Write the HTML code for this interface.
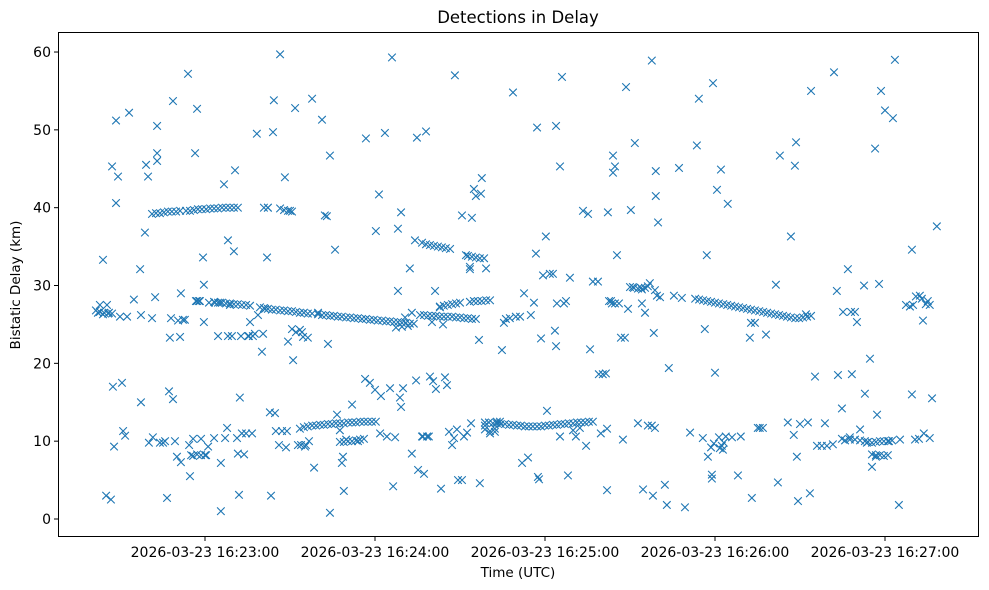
<!DOCTYPE html>
<html><head><meta charset="utf-8"><style>
html,body{margin:0;padding:0;background:#fff;}
svg{display:block;font-family:"DejaVu Sans","Liberation Sans",sans-serif;}
</style></head><body>
<svg id="chart" width="989" height="590" viewBox="0 0 989 590" xmlns="http://www.w3.org/2000/svg">
<rect x="0" y="0" width="989" height="590" fill="#fff"/>
<text x="518" y="23" font-size="16.5" text-anchor="middle" fill="#000">Detections in Delay</text>
<g id="marks"></g>
<g id="axes"></g>
<rect x="58.5" y="32.5" width="920" height="504" fill="none" stroke="#000" stroke-width="1"/>
<text x="518" y="577" font-size="13.5" text-anchor="middle">Time (UTC)</text>
<text transform="translate(20,285) rotate(-90)" font-size="13.5" text-anchor="middle">Bistatic Delay (km)</text>
</svg>
<script>
// time in seconds after 16:22:00, delay in km
const yTicks = [0,10,20,30,40,50,60];
const xTickSecs = [60,120,180,240,300];
const xTickLabels = ["2026-03-23 16:23:00","2026-03-23 16:24:00","2026-03-23 16:25:00","2026-03-23 16:26:00","2026-03-23 16:27:00"];
const scatterPts = [[22.2,26.5],[22.9,27.5],[24.0,33.3],[24.0,26.3],[25.1,3],[25.4,27.5],[26.1,26.5],[26.8,2.5],[27.2,45.3],[27.5,17],[27.9,9.3],[28.6,51.2],[28.6,40.6],[29.3,44],[30.0,26],[30.7,17.5],[31.1,11.3],[31.8,10.7],[32.5,26],[33.2,52.2],[34.9,28.2],[37.1,32.1],[37.4,15],[37.4,26.2],[38.8,36.8],[39.2,45.5],[39.9,44],[40.2,9.8],[41.3,25.8],[41.6,10.5],[42.4,28.5],[43.1,47],[43.1,50.5],[43.1,46],[44.1,9.8],[45.2,9.8],[45.9,10],[46.6,2.7],[47.3,16.4],[47.6,23.3],[48.0,25.8],[48.7,53.7],[48.7,15.4],[49.4,10],[50.1,8],[50.5,25.5],[51.2,23.4],[51.5,7.3],[51.5,29],[52.2,25.6],[52.9,25.6],[54.0,57.2],[54.4,9.5],[54.7,5.5],[55.1,8.2],[55.8,10.3],[56.5,47],[57.2,52.7],[57.2,28],[57.9,28],[58.6,10.3],[59.3,33.6],[59.6,30.1],[59.6,25.3],[60.4,8.2],[61.1,9.3],[61.4,27.8],[63.2,10.4],[63.5,27.8],[64.6,23.5],[65.3,27.8],[65.6,1],[65.6,7.2],[66.7,43],[67.1,10.4],[67.8,11.7],[68.1,35.8],[68.1,23.5],[68.8,27.5],[69.5,23.5],[70.2,34.4],[70.6,44.8],[71.3,10.4],[71.6,8.4],[72.0,3.1],[72.3,15.6],[72.7,23.5],[73.0,11],[73.8,8.3],[74.5,11],[75.2,23.5],[75.5,23.5],[75.9,25.3],[76.6,11],[76.9,23.5],[77.6,23.8],[78.3,49.5],[78.7,26.2],[80.1,21.5],[80.5,23.8],[81.2,27],[81.9,33.6],[82.2,40],[82.9,13.7],[83.3,3],[84.0,49.7],[84.3,53.8],[84.7,13.6],[85.0,11.3],[86.1,9.5],[86.5,59.7],[87.2,11.3],[88.2,43.9],[88.6,9.2],[88.9,11.3],[89.3,22.8],[90.0,39.6],[90.7,24.4],[91.1,20.4],[91.8,52.8],[92.1,24],[92.8,9.5],[93.5,24.3],[93.9,9.5],[94.2,24],[94.6,23.4],[95.3,9.3],[95.6,9.5],[96.3,23.3],[96.7,10],[97.8,54],[98.5,6.6],[99.9,26.5],[101.3,51.3],[102.3,39],[103.0,38.9],[103.4,22.5],[104.1,46.7],[104.1,0.8],[105.9,34.6],[106.6,13.4],[107.6,11.4],[108.3,7.2],[108.7,8],[109.0,3.6],[109.8,10.2],[111.9,14.7],[114.0,10],[116.5,18],[116.8,48.9],[118.2,17.5],[120.0,16.6],[120.3,37],[121.4,41.7],[121.8,11],[122.1,15.8],[123.5,49.6],[124.2,10.6],[125.3,16.8],[126.0,59.3],[126.4,4.2],[127.1,10.5],[128.1,29.3],[128.1,37.3],[128.8,15.6],[129.2,14.4],[129.2,39.4],[129.9,16.8],[130.6,25.9],[132.3,32.2],[133.0,26.5],[133.0,8.4],[134.1,35.8],[134.5,17.8],[134.8,49],[135.2,6.3],[136.6,10.6],[136.9,10.6],[137.3,5.8],[138.0,49.8],[138.4,10.6],[139.0,10.6],[139.4,18.3],[140.1,25.3],[140.5,17.7],[141.2,29.3],[141.5,16.7],[142.9,27.2],[143.3,3.9],[144.0,25],[144.7,18.2],[145.4,17.2],[146.1,11.2],[147.2,9.5],[147.9,10.4],[148.2,57],[148.9,11.5],[149.3,5],[150.7,39],[150.7,5],[151.4,10.6],[152.1,33.9],[152.5,11.1],[153.5,32.1],[153.5,32.4],[153.9,12.3],[154.2,38.7],[154.9,42.4],[155.6,41.5],[156.7,23],[157.0,4.6],[157.4,41.8],[157.7,43.8],[158.8,12],[159.2,32.2],[160.6,11],[162.3,11.2],[163.0,12.5],[164.1,12.5],[164.8,21.7],[165.5,25.2],[166.2,25.7],[167.6,25.8],[168.7,54.8],[169.7,26],[171.2,26],[171.9,7.2],[172.6,29],[174.0,7.9],[175.0,26.2],[176.1,27.8],[176.8,34.1],[177.2,50.3],[177.5,5.4],[177.9,5.1],[178.6,23.2],[179.3,31.3],[180.3,36.3],[180.7,13.9],[181.7,31.5],[182.8,31.5],[183.5,24.2],[183.9,22.2],[183.9,50.5],[184.2,27.7],[185.3,45.3],[185.3,10.6],[186.0,56.8],[186.7,27.7],[187.4,28],[188.1,5.6],[188.8,31],[189.9,11.4],[190.9,10.6],[192.3,11.7],[193.4,39.6],[194.5,9.4],[195.2,39.2],[195.9,21.8],[196.9,30.5],[198.7,30.5],[199.0,18.6],[199.7,11],[200.4,18.6],[201.5,18.7],[201.9,11.6],[201.9,3.7],[202.2,39.4],[202.6,28],[203.3,28],[203.6,27.7],[204.0,46.7],[204.0,44.5],[204.7,45.3],[204.7,27.7],[205.4,33.9],[206.1,27.7],[206.8,23.3],[207.5,10.2],[208.2,23.3],[208.6,55.5],[209.3,27],[210.3,39.7],[211.0,29.8],[211.7,48.3],[212.8,12.3],[213.9,29.7],[214.2,27.7],[214.6,3.8],[215.3,29.7],[215.3,26.5],[216.3,29.9],[216.3,12],[217.0,30.3],[217.7,58.9],[217.7,12],[218.1,3],[218.4,23.9],[218.8,11.7],[218.8,29.4],[219.1,41.5],[219.1,44.7],[219.5,28.7],[219.9,38.1],[220.6,28.5],[222.3,4.4],[223.0,1.8],[223.7,19.4],[225.5,28.7],[227.3,45.1],[228.3,28.4],[229.4,1.5],[231.2,11.1],[233.6,48],[234.3,54],[235.7,10.4],[236.4,24.4],[237.1,33.9],[237.5,8],[238.6,9.2],[238.9,5.2],[238.9,5.7],[239.3,56],[239.6,9.7],[240.0,18.8],[240.7,42.3],[241.4,10.5],[241.7,9.1],[242.1,44.9],[242.4,9.4],[242.8,8.9],[243.1,9.8],[243.8,10.6],[244.5,40.5],[246.0,10.5],[248.1,5.6],[249.1,10.6],[252.3,23.3],[252.7,25.2],[253.0,2.7],[254.1,25.2],[255.1,11.7],[255.8,11.7],[256.9,11.7],[258.0,23.7],[261.5,30.1],[262.2,4.7],[262.9,46.7],[265.7,12.4],[266.8,36.3],[267.8,10.8],[268.2,45.4],[268.6,48.4],[268.9,8],[269.3,2.3],[270.0,12.2],[272.1,26.3],[272.8,12.4],[273.5,3.3],[273.9,55],[275.3,18.3],[276.0,9.4],[277.7,9.4],[278.8,12.3],[279.5,9.4],[281.6,9.6],[282.0,57.4],[283.0,29.3],[283.4,18.5],[284.8,10.3],[284.8,14.2],[285.2,26.6],[286.9,32.1],[287.6,10.5],[288.0,26.6],[288.3,18.6],[289.4,26.6],[290.1,25.3],[291.2,11.5],[292.6,30],[292.9,16.1],[293.6,9.8],[294.7,20.6],[295.4,6.7],[296.5,47.6],[296.8,8],[297.2,13.4],[297.9,30.2],[298.6,55],[300.0,52.5],[301.4,10],[302.8,51.5],[303.5,59],[304.9,1.8],[305.3,10.2],[307.4,27.5],[308.8,27.3],[309.5,34.6],[309.5,16],[309.9,27.5],[310.6,10.2],[310.9,28.6],[312.0,10.3],[312.3,28.7],[313.0,28.3],[313.4,25.5],[313.7,11],[314.4,27.6],[315.1,28],[315.8,27.5],[315.8,10.4],[316.6,15.5],[318.3,37.6]];
const upperTrackPts = [[41.3,39.2],[42.7,39.3],[44.1,39.3],[45.5,39.4],[46.9,39.5],[48.3,39.5],[49.8,39.5],[51.2,39.6],[53.3,39.6],[54.7,39.6],[56.1,39.7],[57.5,39.8],[58.9,39.8],[60.4,39.8],[61.8,39.9],[63.2,39.9],[64.6,39.9],[66.0,40],[67.4,40],[68.8,40],[70.2,40],[71.6,40],[80.8,40],[82.2,40],[86.5,39.9],[87.9,39.7],[89.3,39.6],[90.7,39.5],[136.6,35.5],[138.0,35.3],[139.4,35.2],[140.8,35.1],[142.2,35],[143.6,34.9],[145.0,34.8],[146.5,34.7],[152.8,33.8],[154.2,33.7],[155.6,33.6],[157.0,33.5],[158.5,33.5]];
const midTrackPts = [[21.5,26.8],[22.9,26.6],[24.4,26.5],[25.8,26.4],[27.2,26.4],[56.8,28],[58.2,28],[63.2,27.9],[64.6,27.8],[66.0,27.8],[67.4,27.7],[68.8,27.7],[70.2,27.6],[71.6,27.6],[73.0,27.5],[74.5,27.5],[75.9,27.4],[79.4,27.2],[80.8,27.1],[82.2,27],[83.6,26.9],[85.0,26.9],[86.5,26.8],[87.9,26.8],[89.3,26.7],[90.7,26.7],[92.1,26.6],[93.5,26.5],[94.9,26.5],[96.3,26.4],[97.8,26.4],[99.9,26.3],[101.3,26.2],[102.7,26.2],[104.1,26.1],[105.5,26.1],[106.9,26],[108.3,26],[109.8,25.9],[111.2,25.9],[112.6,25.8],[114.0,25.8],[115.4,25.7],[116.8,25.7],[118.2,25.6],[119.6,25.6],[121.0,25.5],[122.5,25.5],[123.9,25.4],[125.3,25.4],[126.7,25.3],[128.1,25.3],[129.5,25.2],[130.9,25.2],[132.3,25.1],[133.7,25.1],[127.4,24.6],[129.5,24.7],[131.6,24.8],[135.9,26.2],[137.3,26.2],[138.7,26.1],[140.1,26.1],[141.5,26.1],[142.9,26],[144.3,26],[145.7,26],[147.2,26],[148.6,25.9],[150.0,25.9],[151.4,25.8],[152.8,25.8],[154.2,25.7],[155.6,25.7],[142.9,27.3],[144.3,27.4],[145.7,27.5],[147.2,27.6],[148.6,27.7],[150.0,27.8],[153.5,27.9],[154.9,28],[156.3,28],[157.7,28],[159.2,28.1],[160.6,28.1],[210.0,29.8],[211.4,29.7],[212.8,29.6],[214.2,29.5],[233.0,28.3],[234.4,28.2],[235.8,28.1],[237.2,28],[238.6,27.9],[240.0,27.8],[241.4,27.7],[242.9,27.6],[244.3,27.5],[245.7,27.4],[247.1,27.3],[248.5,27.2],[249.9,27.1],[251.3,27],[252.7,26.9],[254.1,26.8],[255.6,26.7],[257.0,26.6],[258.4,26.5],[259.8,26.4],[261.2,26.3],[262.6,26.2],[264.0,26.1],[265.4,26],[266.8,25.9],[268.3,25.8],[269.7,25.8],[271.1,25.9],[272.5,26],[273.9,26.1]];
const lowTrackPts = [[55.8,8.1],[57.2,8.3],[58.6,8.2],[60.0,8.2],[93.5,11.6],[94.9,11.8],[96.3,11.9],[97.8,12],[99.2,12],[100.6,12.1],[102.0,12.1],[103.4,12.2],[104.8,12.2],[106.2,12.3],[107.6,12.3],[109.0,12.3],[110.5,12.4],[111.9,12.4],[113.3,12.4],[114.7,12.5],[116.1,12.5],[117.5,12.5],[118.9,12.5],[120.3,12.5],[107.6,9.9],[109.0,9.9],[110.5,10],[111.9,10],[113.3,10.1],[114.7,10.2],[116.1,10.3],[158.8,12.4],[160.2,12.4],[161.6,12.3],[163.0,12.3],[164.4,12.2],[165.9,12.2],[167.3,12.1],[168.7,12.1],[170.1,12],[171.5,12],[172.9,11.9],[174.3,11.9],[175.7,11.9],[177.2,11.9],[178.6,11.9],[180.0,12],[181.4,12],[182.8,12.1],[184.2,12.1],[185.6,12.2],[187.0,12.2],[188.4,12.3],[189.9,12.3],[191.3,12.4],[192.7,12.4],[194.1,12.4],[195.5,12.5],[196.9,12.5],[158.8,11.5],[160.6,11.3],[162.3,11.6],[285.9,10.1],[287.6,10.2],[289.4,10.2],[291.2,10.1],[292.9,10],[294.0,9.9],[295.4,9.8],[296.8,9.9],[298.2,10],[299.6,10],[301.0,10],[302.5,10.1],[295.4,8.3],[296.8,8.2],[298.2,8.2],[299.6,8.1],[301.0,8.2]];

const NS = "http://www.w3.org/2000/svg";
function xScale(t){ return 205 + (t - 60) * 170 / 60; }
function yScale(v){ return 519 - v * 7.783; }
const axes = document.getElementById('axes');
const marks = document.getElementById('marks');
function mk(tag, attrs, parent){ const e = document.createElementNS(NS, tag); for (const k in attrs) e.setAttribute(k, attrs[k]); parent.appendChild(e); return e; }

yTicks.forEach(v => {
  const y = yScale(v);
  const tk = mk('line', {x1:54, x2:58, y1:y, y2:y, stroke:'#000'}, axes);
  
  
  const lb = mk('text', {x:51, y:y+5, 'font-size':14, 'text-anchor':'end'}, axes);
  lb.textContent = v;
  
  
});
xTickSecs.forEach((s, i) => {
  const x = xScale(s);
  const tk = mk('line', {x1:x, x2:x, y1:537, y2:541, stroke:'#000'}, axes);
  
  
  const lb = mk('text', {x:x, y:557, 'font-size':14, 'text-anchor':'middle'}, axes);
  lb.textContent = xTickLabels[i];
  
  
});
[scatterPts, upperTrackPts, midTrackPts, lowTrackPts].forEach(arr => {
  arr.forEach(p => {
    const x = xScale(p[0]), y = yScale(p[1]), r = 3.8;
    const pt = mk('path', {d:`M${x-r},${y-r}L${x+r},${y+r}M${x-r},${y+r}L${x+r},${y-r}`, stroke:'#1f77b4', 'stroke-width':1.1, fill:'none'}, marks);
    
    
  });
});
</script>
</body></html>
